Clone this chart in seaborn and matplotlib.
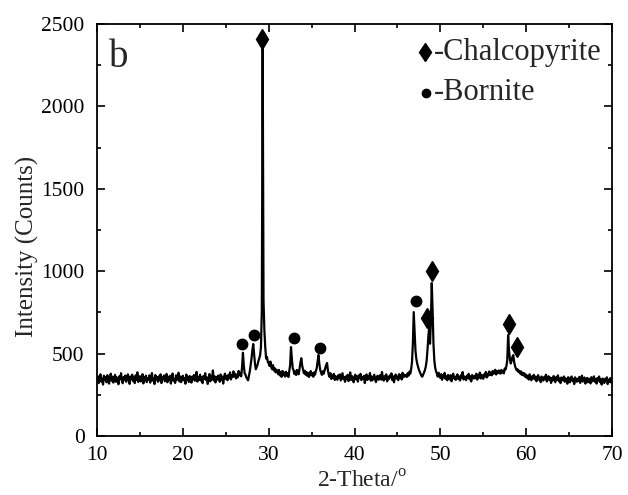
import numpy as np
import pandas as pd
import matplotlib
matplotlib.use("Agg")
import matplotlib.pyplot as plt
import seaborn as sns

# ---- data ----
two_theta_start = 10.0
two_theta_step = 0.1
intensity = [
    338, 362, 321, 355, 374, 330, 348, 312, 366, 341,
    357, 326, 369, 340, 318, 352, 378, 335, 360, 324,
    347, 371, 329, 356, 338, 314, 362, 345, 381, 333,
    320, 358, 342, 367, 329, 351, 374, 337, 316, 361,
    344, 372, 333, 355, 321, 368, 340, 386, 328, 350,
    363, 331, 347, 375, 319, 356, 339, 366, 327, 352,
    341, 368, 324, 357, 382, 336, 349, 315, 370, 343,
    358, 329, 362, 338, 374, 321, 355, 344, 367, 332,
    350, 377, 326, 359, 341, 365, 318, 352, 379, 336,
    345, 322, 368, 339, 356, 384, 331, 361, 327, 353,
    366, 338, 352, 317, 373, 342, 359, 328, 364, 347,
    324, 361, 343, 370, 335, 351, 389, 330, 357, 341,
    372, 336, 358, 321, 364, 347, 381, 339, 355, 316,
    353, 376, 332, 360, 344, 398, 337, 362, 325, 358,
    342, 367, 351, 329, 373, 340, 361, 318, 354, 378,
    346, 365, 338, 371, 352, 386, 343, 369, 357, 392,
    361, 378, 349, 372, 356, 395, 368, 383, 362, 420,
    505, 430, 380, 372, 355, 348, 338, 365, 392, 430,
    470, 520, 558, 500, 440, 405, 418, 432, 455, 470,
    490, 540, 760, 2360, 820, 640, 540, 470, 480, 450,
    440, 425, 452, 418, 405, 430, 398, 412, 386, 403,
    392, 375, 401, 368, 388, 359, 395, 372, 384, 361,
    390, 366, 381, 358, 394, 430, 540, 468, 412, 398,
    376, 392, 370, 401, 388, 374, 410, 445, 472, 428,
    405, 381, 396, 372, 389, 365, 383, 358, 377, 394,
    368, 381, 359, 386, 372, 395, 412, 450, 491, 438,
    402, 385, 371, 393, 378, 396, 415, 430, 443, 398,
    372, 358, 381, 346, 369, 352, 377, 340, 363, 355,
    341, 368, 352, 374, 337, 360, 381, 345, 356, 329,
    362, 348, 371, 333, 357, 386, 340, 364, 351, 326,
    358, 372, 343, 361, 330, 368, 352, 377, 339, 355,
    346, 365, 321, 358, 374, 340, 363, 349, 382, 335,
    361, 338, 356, 372, 344, 327, 359, 366, 341, 352,
    370, 342, 388, 351, 336, 363, 347, 374, 332, 358,
    344, 367, 355, 380, 339, 362, 326, 357, 373, 348,
    361, 339, 375, 352, 368, 343, 384, 356, 372, 363,
    370, 358, 382, 366, 391, 378, 405, 450, 560, 752,
    640, 520, 470, 440, 420, 402, 390, 378, 365, 360,
    372, 385, 400, 420, 455, 520, 600, 661, 560, 700,
    928, 760, 560, 460, 415, 392, 378, 360, 384, 366,
    352, 375, 341, 368, 356, 383, 347, 362, 338, 371,
    355, 343, 369, 332, 361, 378, 349, 357, 340, 366,
    374, 345, 360, 337, 369, 352, 388, 343, 361, 350,
    339, 366, 353, 377, 344, 362, 331, 370, 357, 348,
    365, 351, 378, 342, 368, 356, 385, 349, 372, 360,
    347, 374, 362, 389, 355, 378, 366, 392, 371, 383,
    368, 395, 377, 386, 402, 373, 391, 381, 398, 386,
    378, 401, 385, 396, 380, 410, 404, 425, 460, 613,
    520, 470, 440, 455, 480, 491, 450, 425, 410, 398,
    405, 388, 396, 379, 392, 370, 384, 367, 380, 358,
    372, 351, 366, 343, 375, 356, 338, 362, 349, 371,
    344, 360, 332, 357, 369, 341, 354, 327, 361, 348,
    336, 358, 345, 372, 331, 350, 363, 339, 355, 322,
    352, 337, 364, 345, 326, 358, 341, 368, 333, 349,
    321, 355, 342, 338, 361, 329, 350, 344, 317, 357,
    340, 326, 352, 361, 333, 347, 315, 356, 338, 329,
    348, 333, 359, 322, 345, 366, 330, 341, 355, 318,
    337, 352, 326, 348, 340, 319, 357, 331, 344, 362,
    329, 345, 318, 352, 336, 361, 327, 343, 312, 349,
    338, 321, 347, 333, 356, 315, 342, 328, 351, 324,
    336,
]

chalcopyrite_x = [29.25, 48.45, 49.05, 58.0, 58.9]
chalcopyrite_y = [2410, 716, 1001, 680, 540]
bornite_x = [26.9, 28.3, 32.95, 36.0, 47.15]
bornite_y = [558, 613, 595, 534, 819]

x_ticks = [10, 20, 30, 40, 50, 60, 70]
y_ticks = [0, 500, 1000, 1500, 2000, 2500]

# ---- figure ----
sns.set_style("ticks")
plt.rcParams["font.family"] = ["Liberation Serif", "DejaVu Serif"]
plt.rcParams["mathtext.fontset"] = "custom"
plt.rcParams["mathtext.rm"] = "Liberation Serif"

two_theta = np.round(two_theta_start + two_theta_step * np.arange(len(intensity)), 2)
df = pd.DataFrame({"two_theta": two_theta, "intensity": intensity})

fig = plt.figure(figsize=(6.28, 4.95), dpi=100)
ax = fig.add_axes([0.1545, 0.1192, 0.82, 0.8323])

sns.lineplot(data=df, x="two_theta", y="intensity", ax=ax, color="black",
             linewidth=1.6, estimator=None, sort=False)

ax.plot(chalcopyrite_x, chalcopyrite_y, linestyle="none", marker="d",
        markersize=10.5, color="black")
ax.plot(bornite_x, bornite_y, linestyle="none", marker="o",
        markersize=7.5, color="black")

ax.set_xlim(10, 70)
ax.set_ylim(0, 2500)
ax.set_xticks(x_ticks)
ax.set_yticks(y_ticks)
ax.set_xticks(np.arange(15, 70, 10), minor=True)
ax.set_yticks(np.arange(250, 2500, 500), minor=True)
ax.tick_params(which="both", direction="in", top=True, right=True,
               width=1.2, colors="black", labelsize=15.5)
ax.tick_params(which="major", length=6)
ax.tick_params(which="minor", length=3)
ax.tick_params(axis="x", which="major", pad=7)
ax.tick_params(axis="y", which="major", pad=9)
for s in ax.spines.values():
    s.set_linewidth(1.3)
    s.set_color("black")

ax.set_xlabel("2-Theta/$^{\\mathregular{o}}$", fontsize=17)
ax.set_ylabel("Intensity (Counts)", fontsize=18)
ax.xaxis.set_label_coords(0.515, -0.083)
ax.yaxis.set_label_coords(-0.113, 0.46)

ax.text(0.024, 0.895, "b", transform=ax.transAxes, fontsize=28,
        va="baseline", ha="left")

# legend-like annotation
ax.plot([0.637], [0.932], transform=ax.transAxes, marker="d", markersize=9.5,
        color="black", linestyle="none", clip_on=False)
ax.text(0.655, 0.932, "-Chalcopyrite", transform=ax.transAxes, fontsize=22,
        va="center", ha="left")
ax.plot([0.639], [0.833], transform=ax.transAxes, marker="o", markersize=6,
        color="black", linestyle="none", clip_on=False)
ax.text(0.655, 0.833, "-Bornite", transform=ax.transAxes, fontsize=22,
        va="center", ha="left")

fig.savefig("out.png", dpi=100)
